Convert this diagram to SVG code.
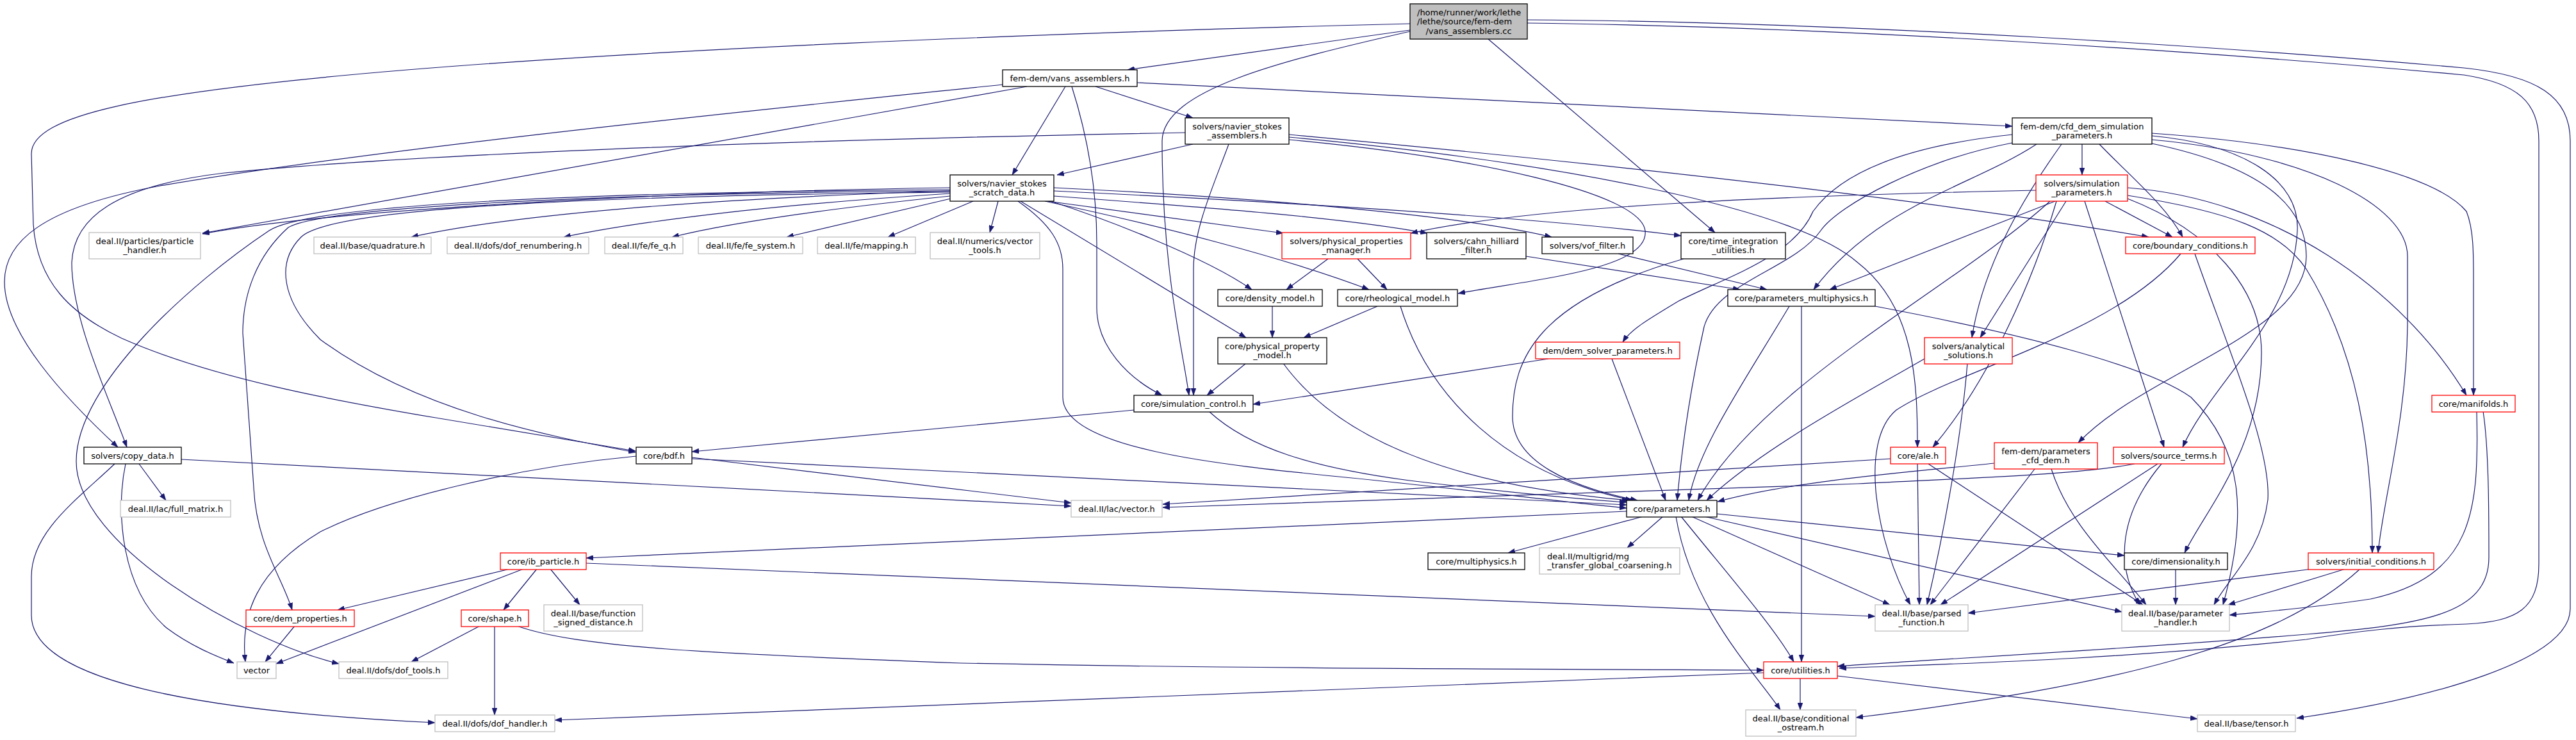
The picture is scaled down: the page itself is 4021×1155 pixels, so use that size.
<svg xmlns="http://www.w3.org/2000/svg" width="4021" height="1155" viewBox="0 0 4021 1155">
<defs>
<style>
.n rect{fill:#fff;stroke:#000;stroke-width:1.3}
.x rect{fill:#fff;stroke:#bfbfbf;stroke-width:1.3}
.r rect{fill:#fff;stroke:#ff0000;stroke-width:1.3}
.rt rect{fill:#bfbfbf;stroke:#000;stroke-width:1.3}
text{font-family:"DejaVu Sans",sans-serif;font-size:13px;fill:#000;text-anchor:middle}
text.s{text-anchor:start}
#edges path{fill:none;stroke:#191970;stroke-width:1.2;marker-end:url(#ah)}
</style>
<marker id="ah" viewBox="0 0 11 8" refX="11" refY="4" markerWidth="11" markerHeight="8" markerUnits="userSpaceOnUse" orient="auto"><path d="M0,0 L11,4 L0,8 Z" fill="#191970" stroke="#191970" stroke-width="0.5"/></marker>
</defs>
<rect width="4021" height="1155" fill="#fff"/>
<g id="edges">
<path d="M2201,47 L1760,109"/>
<path d="M2201,37 C1600,52 1000,78 600,112 C220,145 49,180 49,240 L52,350 C58,440 110,490 190,528 C330,590 520,625 680,652 C820,676 920,692 992,704"/>
<path d="M2201,49 C2000,95 1815,140 1814,220 C1814,420 1845,540 1856,617"/>
<path d="M2323,61 L2677,363"/>
<path d="M2384,36 C2900,42 3500,85 3846,117 C3930,130 3963,160 3963,220 L3963,880 C3963,950 3930,970 3850,974 C3750,977 3680,985 3600,998 C3300,1030 3050,1036 2871,1043"/>
<path d="M2384,31 C2900,34 3500,75 3846,106 C3960,118 4012,150 4012,220 L4012,950 C4012,1030 3800,1090 3585,1121"/>
<path d="M1565,132 C1200,170 600,230 250,290 C60,325 7,380 7,440 C7,520 100,620 184,698"/>
<path d="M1603,135 L316,364"/>
<path d="M1663,135 L1580,273"/>
<path d="M1673,135 C1700,220 1712,300 1712,380 L1712,480 C1712,540 1760,590 1814,617"/>
<path d="M1710,135 L1862,184"/>
<path d="M1775,129 L3141,197"/>
<path d="M1850,207 C1400,215 700,235 350,270 C180,290 115,340 112,410 C112,500 170,620 198,698"/>
<path d="M1862,225 L1650,273"/>
<path d="M1918,225 C1890,300 1863,360 1863,420 L1863,617"/>
<path d="M2012,210 C2500,255 3000,310 3354,370"/>
<path d="M2012,214 C2400,250 2800,320 2900,410 C2990,480 2993,600 2993,698"/>
<path d="M2012,218 C2300,245 2560,300 2568,360 C2575,420 2400,435 2276,458"/>
<path d="M1483,293 C1000,300 500,330 316,365"/>
<path d="M1483,298 C1100,310 800,335 642,370"/>
<path d="M1483,302 C1200,320 1000,345 880,370"/>
<path d="M1483,306 C1300,325 1150,345 1049,370"/>
<path d="M1484,310 L1228,370"/>
<path d="M1519,314 L1386,370"/>
<path d="M1558,314 L1545,363"/>
<path d="M1635,314 L2003,364"/>
<path d="M1645,306 C1900,325 2100,340 2228,364"/>
<path d="M1645,293 C2000,310 2300,340 2422,370"/>
<path d="M1645,298 C2100,320 2450,345 2624,368"/>
<path d="M1640,314 C1720,340 1880,400 1954,452"/>
<path d="M1631,314 C1800,350 2000,400 2137,452"/>
<path d="M1593,314 L1945,527"/>
<path d="M1589,314 C1640,350 1659,380 1659,420 L1659,620 C1659,700 1900,725 2100,745 C2300,765 2450,785 2539,793"/>
<path d="M1483,300 C1000,305 520,320 470,370 C430,410 440,470 500,530 C650,640 850,680 992,706"/>
<path d="M1483,296 C900,300 480,320 420,360 C300,440 119,600 119,720 C119,850 380,1000 529,1036"/>
<path d="M1483,298 C900,302 500,325 450,355 C400,400 379,460 379,520 L396,760 C400,850 440,900 456,952"/>
<path d="M1945,567 L1884,617"/>
<path d="M2003,567 C2100,700 2300,760 2543,781"/>
<path d="M1986,478 L1986,527"/>
<path d="M2150,478 L2035,527"/>
<path d="M2186,478 C2230,620 2350,740 2548,781"/>
<path d="M2073,404 L2008,452"/>
<path d="M2119,404 L2165,452"/>
<path d="M3178,297 C2800,305 2400,320 2202,364"/>
<path d="M2382,400 L2716,452"/>
<path d="M2526,396 L2758,452"/>
<path d="M2628,404 C2400,470 2361,560 2361,650 C2361,720 2450,760 2556,781"/>
<path d="M2417,560 L1956,631"/>
<path d="M2516,560 L2600,781"/>
<path d="M3141,210 C3000,225 2880,260 2830,330 C2800,400 2700,430 2620,470 C2570,500 2545,515 2533,534"/>
<path d="M3141,223 C3000,250 2870,320 2842,360 C2800,420 2680,440 2660,510 C2640,600 2625,700 2618,781"/>
<path d="M3179,225 C3080,290 2930,320 2831,452"/>
<path d="M3208,314 L2856,452"/>
<path d="M3250,225 L3250,273"/>
<path d="M3277,225 C3330,280 3380,320 3407,370"/>
<path d="M3286,314 L3391,370"/>
<path d="M3218,225 C3150,320 3095,420 3078,527"/>
<path d="M3225,314 L3091,527"/>
<path d="M3210,314 C3170,450 3100,600 3017,698"/>
<path d="M3254,314 L3378,698"/>
<path d="M3359,212 C3500,225 3590,280 3586,360 C3580,500 3450,600 3407,698"/>
<path d="M3359,224 C3530,260 3600,320 3600,400 C3600,520 3350,580 3244,691"/>
<path d="M3359,208 C3600,225 3800,270 3850,330 C3862,360 3861,400 3861,450 L3861,617"/>
<path d="M3321,293 C3550,310 3750,450 3850,617"/>
<path d="M3359,218 C3600,240 3758,320 3758,400 L3758,500 C3758,650 3720,780 3712,863"/>
<path d="M3321,305 C3480,330 3560,360 3600,420 C3680,550 3703,700 3703,863"/>
<path d="M3321,310 C3450,360 3530,450 3530,550 C3530,700 3440,800 3410,863"/>
<path d="M3200,314 C3050,450 2750,600 2650,781"/>
<path d="M2793,478 C2720,600 2650,700 2636,781"/>
<path d="M3004,560 C2900,620 2750,700 2664,781"/>
<path d="M3071,567 C3060,700 3030,850 3008,944"/>
<path d="M3113,723 C3000,735 2800,750 2681,783"/>
<path d="M3176,732 L3013,944"/>
<path d="M3202,732 C3230,820 3300,880 3350,944"/>
<path d="M3332,724 C3250,740 3100,745 2900,755 C2500,770 2100,785 1815,792"/>
<path d="M2951,716 L1815,787"/>
<path d="M3368,724 L3029,944"/>
<path d="M3374,724 C3310,800 3300,880 3340,944"/>
<path d="M2993,724 L2996,944"/>
<path d="M3010,724 L3345,944"/>
<path d="M3404,396 C3300,520 3050,580 2960,640 C2900,690 2930,850 2982,944"/>
<path d="M3426,396 C3480,550 3545,700 3540,780 C3530,860 3480,900 3456,944"/>
<path d="M2812,478 L2812,1033"/>
<path d="M2927,478 C3150,520 3350,570 3420,620 C3500,700 3510,800 3470,944"/>
<path d="M3396,889 L3396,944"/>
<path d="M3609,888 L3072,957"/>
<path d="M3661,888 L3478,944"/>
<path d="M3684,888 C3550,1010 3300,1070 2897,1120"/>
<path d="M3866,642 C3870,800 3860,900 3700,935 C3600,950 3530,955 3480,960"/>
<path d="M3876,642 C3885,700 3885,800 3885,870 C3885,960 3780,975 3600,990 C3300,1015 3000,1030 2868,1040"/>
<path d="M2539,798 L915,871"/>
<path d="M2565,806 L2354,863"/>
<path d="M2596,806 L2540,855"/>
<path d="M2616,806 C2640,950 2740,1050 2779,1108"/>
<path d="M2624,806 C2700,900 2770,980 2800,1033"/>
<path d="M2640,806 L2950,944"/>
<path d="M2660,806 L3312,955"/>
<path d="M2680,802 L3316,867"/>
<path d="M796,888 L527,952"/>
<path d="M817,888 L431,1036"/>
<path d="M838,888 L786,952"/>
<path d="M859,888 L905,944"/>
<path d="M915,879 L2927,962"/>
<path d="M460,977 L414,1033"/>
<path d="M749,977 L642,1033"/>
<path d="M772,977 L772,1116"/>
<path d="M807,977 C900,1010 1100,1020 1500,1035 C1900,1043 2300,1044 2753,1046"/>
<path d="M2753,1050 L866,1124"/>
<path d="M2810,1059 L2810,1108"/>
<path d="M2868,1055 L3430,1122"/>
<path d="M217,724 L259,781"/>
<path d="M196,724 C180,800 190,920 260,980 C300,1010 340,1025 365,1035"/>
<path d="M179,724 C120,780 49,830 49,900 L49,960 C49,1060 300,1110 679,1128"/>
<path d="M283,717 L1672,790"/>
<path d="M1080,714 L1672,785"/>
<path d="M1080,716 L2539,788"/>
<path d="M993,712 C800,730 600,780 500,830 C400,890 375,960 383,1033"/>
<path d="M1770,640 L1080,705"/>
<path d="M1887,642 C1950,700 2050,730 2200,750 C2350,768 2450,778 2539,784"/>
</g>
<g id="root" class="rt"><rect x="2201" y="6" width="183" height="55"/><text class="s" x="2212" y="23.5">/home/runner/work/lethe</text><text class="s" x="2212" y="38">/lethe/source/fem-dem</text><text x="2292.5" y="52.5">/vans_assemblers.cc</text></g>
<g id="vans_assemblers" class="n"><rect x="1565" y="109" width="210" height="26"/><text x="1670" y="126.5">fem-dem/vans_assemblers.h</text></g>
<g id="cfd_dem_simulation_parameters" class="n"><rect x="3141" y="184" width="218" height="41"/><text x="3250" y="201.5">fem-dem/cfd_dem_simulation</text><text x="3250" y="216">_parameters.h</text></g>
<g id="navier_stokes_assemblers" class="n"><rect x="1850" y="184" width="162" height="41"/><text x="1931" y="201.5">solvers/navier_stokes</text><text x="1931" y="216">_assemblers.h</text></g>
<g id="navier_stokes_scratch_data" class="n"><rect x="1483" y="273" width="162" height="41"/><text x="1564" y="290.5">solvers/navier_stokes</text><text x="1564" y="305">_scratch_data.h</text></g>
<g id="simulation_parameters" class="r"><rect x="3178" y="273" width="143" height="41"/><text x="3249.5" y="290.5">solvers/simulation</text><text x="3249.5" y="305">_parameters.h</text></g>
<g id="particle_handler" class="x"><rect x="139" y="363" width="174" height="41"/><text x="226" y="380.5">deal.II/particles/particle</text><text x="226" y="395">_handler.h</text></g>
<g id="quadrature" class="x"><rect x="490" y="370" width="183" height="26"/><text x="581.5" y="387.5">deal.II/base/quadrature.h</text></g>
<g id="dof_renumbering" class="x"><rect x="698" y="370" width="221" height="26"/><text x="808.5" y="387.5">deal.II/dofs/dof_renumbering.h</text></g>
<g id="fe_q" class="x"><rect x="944" y="370" width="122" height="26"/><text x="1005" y="387.5">deal.II/fe/fe_q.h</text></g>
<g id="fe_system" class="x"><rect x="1090" y="370" width="163" height="26"/><text x="1171.5" y="387.5">deal.II/fe/fe_system.h</text></g>
<g id="mapping" class="x"><rect x="1276" y="370" width="153" height="26"/><text x="1352.5" y="387.5">deal.II/fe/mapping.h</text></g>
<g id="vector_tools" class="x"><rect x="1452" y="363" width="171" height="41"/><text x="1537.5" y="380.5">deal.II/numerics/vector</text><text x="1537.5" y="395">_tools.h</text></g>
<g id="physical_properties_manager" class="r"><rect x="2001" y="363" width="201" height="41"/><text x="2101.5" y="380.5">solvers/physical_properties</text><text x="2101.5" y="395">_manager.h</text></g>
<g id="cahn_hilliard_filter" class="n"><rect x="2227" y="363" width="155" height="41"/><text x="2304.5" y="380.5">solvers/cahn_hilliard</text><text x="2304.5" y="395">_filter.h</text></g>
<g id="vof_filter" class="n"><rect x="2407" y="370" width="142" height="26"/><text x="2478" y="387.5">solvers/vof_filter.h</text></g>
<g id="time_integration_utilities" class="n"><rect x="2624" y="363" width="163" height="41"/><text x="2705.5" y="380.5">core/time_integration</text><text x="2705.5" y="395">_utilities.h</text></g>
<g id="boundary_conditions" class="r"><rect x="3318" y="370" width="202" height="26"/><text x="3419" y="387.5">core/boundary_conditions.h</text></g>
<g id="density_model" class="n"><rect x="1901" y="452" width="163" height="26"/><text x="1982.5" y="469.5">core/density_model.h</text></g>
<g id="rheological_model" class="n"><rect x="2088" y="452" width="187" height="26"/><text x="2181.5" y="469.5">core/rheological_model.h</text></g>
<g id="parameters_multiphysics" class="n"><rect x="2697" y="452" width="230" height="26"/><text x="2812" y="469.5">core/parameters_multiphysics.h</text></g>
<g id="physical_property_model" class="n"><rect x="1901" y="527" width="170" height="41"/><text x="1986" y="544.5">core/physical_property</text><text x="1986" y="559">_model.h</text></g>
<g id="dem_solver_parameters" class="r"><rect x="2397" y="534" width="225" height="26"/><text x="2509.5" y="551.5">dem/dem_solver_parameters.h</text></g>
<g id="analytical_solutions" class="r"><rect x="3004" y="527" width="137" height="41"/><text x="3072.5" y="544.5">solvers/analytical</text><text x="3072.5" y="559">_solutions.h</text></g>
<g id="simulation_control" class="n"><rect x="1770" y="617" width="186" height="26"/><text x="1863" y="634.5">core/simulation_control.h</text></g>
<g id="manifolds" class="r"><rect x="3796" y="617" width="130" height="26"/><text x="3861" y="634.5">core/manifolds.h</text></g>
<g id="copy_data" class="n"><rect x="131" y="698" width="152" height="26"/><text x="207" y="715.5">solvers/copy_data.h</text></g>
<g id="bdf" class="n"><rect x="993" y="698" width="87" height="26"/><text x="1036.5" y="715.5">core/bdf.h</text></g>
<g id="ale" class="r"><rect x="2951" y="698" width="86" height="26"/><text x="2994" y="715.5">core/ale.h</text></g>
<g id="parameters_cfd_dem" class="r"><rect x="3113" y="691" width="161" height="41"/><text x="3193.5" y="708.5">fem-dem/parameters</text><text x="3193.5" y="723">_cfd_dem.h</text></g>
<g id="source_terms" class="r"><rect x="3299" y="698" width="173" height="26"/><text x="3385.5" y="715.5">solvers/source_terms.h</text></g>
<g id="full_matrix" class="x"><rect x="188" y="781" width="172" height="26"/><text x="274" y="798.5">deal.II/lac/full_matrix.h</text></g>
<g id="lac_vector" class="x"><rect x="1672" y="781" width="142" height="26"/><text x="1743" y="798.5">deal.II/lac/vector.h</text></g>
<g id="parameters" class="n"><rect x="2539" y="781" width="141" height="26"/><text x="2609.5" y="798.5">core/parameters.h</text></g>
<g id="ib_particle" class="r"><rect x="781" y="863" width="134" height="26"/><text x="848" y="880.5">core/ib_particle.h</text></g>
<g id="multiphysics" class="n"><rect x="2229" y="863" width="151" height="26"/><text x="2304.5" y="880.5">core/multiphysics.h</text></g>
<g id="mg_transfer_global_coarsening" class="x"><rect x="2403" y="855" width="219" height="41"/><text class="s" x="2415" y="872.5">deal.II/multigrid/mg</text><text x="2512.5" y="887">_transfer_global_coarsening.h</text></g>
<g id="dimensionality" class="n"><rect x="3316" y="863" width="161" height="26"/><text x="3396.5" y="880.5">core/dimensionality.h</text></g>
<g id="initial_conditions" class="r"><rect x="3603" y="863" width="196" height="26"/><text x="3701" y="880.5">solvers/initial_conditions.h</text></g>
<g id="dem_properties" class="r"><rect x="384" y="952" width="169" height="26"/><text x="468.5" y="969.5">core/dem_properties.h</text></g>
<g id="shape" class="r"><rect x="720" y="952" width="105" height="26"/><text x="772.5" y="969.5">core/shape.h</text></g>
<g id="function_signed_distance" class="x"><rect x="849" y="944" width="154" height="41"/><text x="926" y="961.5">deal.II/base/function</text><text x="926" y="976">_signed_distance.h</text></g>
<g id="parsed_function" class="x"><rect x="2927" y="944" width="145" height="41"/><text x="2999.5" y="961.5">deal.II/base/parsed</text><text x="2999.5" y="976">_function.h</text></g>
<g id="parameter_handler" class="x"><rect x="3312" y="944" width="168" height="41"/><text x="3396" y="961.5">deal.II/base/parameter</text><text x="3396" y="976">_handler.h</text></g>
<g id="vector" class="x"><rect x="370" y="1033" width="61" height="26"/><text x="400.5" y="1050.5">vector</text></g>
<g id="dof_tools" class="x"><rect x="529" y="1033" width="170" height="26"/><text x="614" y="1050.5">deal.II/dofs/dof_tools.h</text></g>
<g id="utilities" class="r"><rect x="2753" y="1033" width="115" height="26"/><text x="2810.5" y="1050.5">core/utilities.h</text></g>
<g id="dof_handler" class="x"><rect x="679" y="1116" width="187" height="26"/><text x="772.5" y="1133.5">deal.II/dofs/dof_handler.h</text></g>
<g id="conditional_ostream" class="x"><rect x="2725" y="1108" width="172" height="41"/><text x="2811" y="1125.5">deal.II/base/conditional</text><text x="2811" y="1140">_ostream.h</text></g>
<g id="tensor" class="x"><rect x="3430" y="1116" width="153" height="26"/><text x="3506.5" y="1133.5">deal.II/base/tensor.h</text></g>
</svg>
